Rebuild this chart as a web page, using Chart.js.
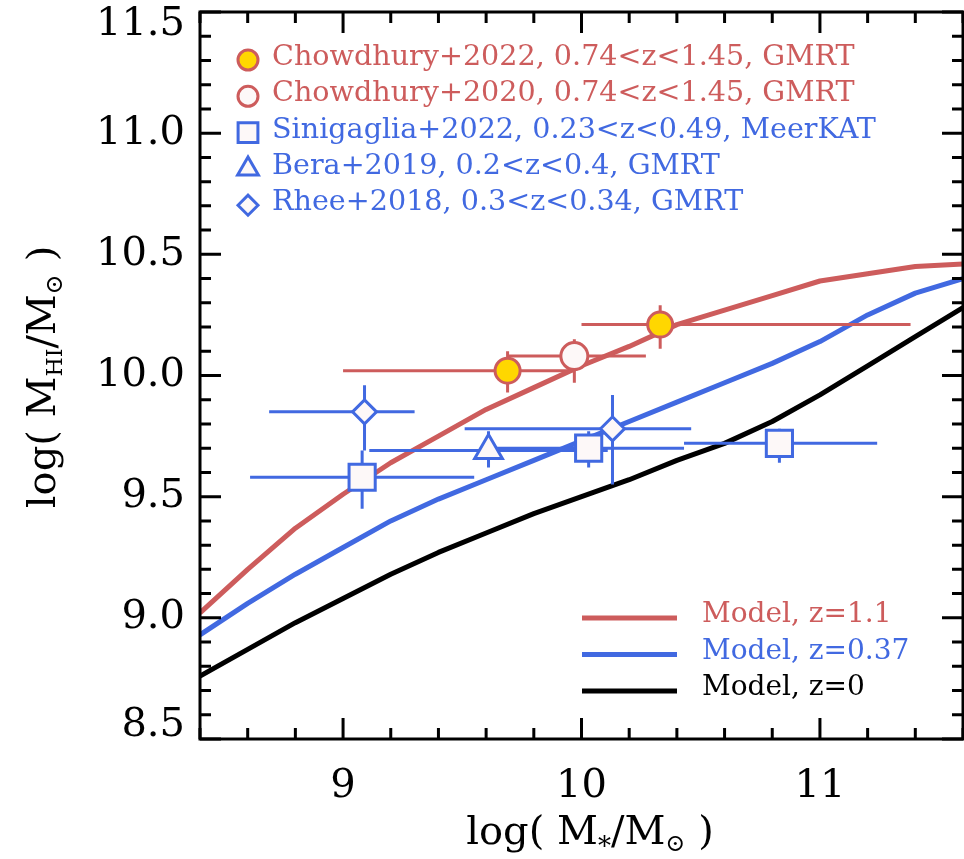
<!DOCTYPE html>
<html>
<head>
<meta charset="utf-8">
<title>HI mass vs stellar mass</title>
<script src="https://cdn.jsdelivr.net/npm/chart.js@4.4.1/dist/chart.umd.min.js"></script>
<style>
  html, body { margin: 0; padding: 0; background: #fff; }
  #wrap { width: 964px; height: 859px; }
</style>
</head>
<body>
<div id="wrap"><canvas id="hiChart" width="964" height="859"></canvas></div>
<script>
      // Axis ranges and labelled ticks
      const xRange = [8.4, 11.6];
      const yRange = [8.5, 11.5];
      const xMajor = [9, 10, 11];
      const yMajor = [8.5, 9.0, 9.5, 10.0, 10.5, 11.0, 11.5];
      const xMinorStep = 0.2;
      const yMinorStep = 0.1;

      // Model curves, log M_HI against log M_* (0.2 dex grid)
      const modelMstar = [8.4, 8.6, 8.8, 9.0, 9.2, 9.4, 9.6, 9.8, 10.0, 10.2, 10.4, 10.6, 10.8, 11.0, 11.2, 11.4, 11.6];
      const modelZ11 = [9.02, 9.20, 9.37, 9.51, 9.64, 9.75, 9.86, 9.95, 10.04, 10.12, 10.21, 10.27, 10.33, 10.39, 10.42, 10.45, 10.46];
      const modelZ037 = [8.93, 9.06, 9.18, 9.29, 9.40, 9.49, 9.57, 9.65, 9.73, 9.81, 9.89, 9.97, 10.05, 10.14, 10.25, 10.34, 10.40];
      const modelZ0 = [8.76, 8.87, 8.98, 9.08, 9.18, 9.27, 9.35, 9.43, 9.50, 9.57, 9.65, 9.72, 9.81, 9.92, 10.04, 10.16, 10.28];
      const modelLabels = ['Model, z=1.1', 'Model, z=0.37', 'Model, z=0'];

      // Stacked HI measurements: centre, then low/high ends of the bars
      const chow22Mstar = [9.69, 10.33];
      const chow22MstarLo = [9.00, 10.00];
      const chow22MstarHi = [9.97, 11.38];
      const chow22Mhi = [10.02, 10.21];
      const chow22MhiLo = [9.93, 10.11];
      const chow22MhiHi = [10.10, 10.29];

      const chow20Mstar = [9.97];
      const chow20MstarLo = [9.69];
      const chow20MstarHi = [10.27];
      const chow20Mhi = [10.08];
      const chow20MhiLo = [9.97];
      const chow20MhiHi = [10.15];

      const sini22Mstar = [9.08, 10.03, 10.83];
      const sini22MstarLo = [8.61, 9.63, 10.43];
      const sini22MstarHi = [9.55, 10.43, 11.24];
      const sini22Mhi = [9.58, 9.70, 9.72];
      const sini22MhiLo = [9.45, 9.62, 9.64];
      const sini22MhiHi = [9.69, 9.77, 9.78];

      const bera19Mstar = [9.61];
      const bera19MstarLo = [9.11];
      const bera19MstarHi = [10.11];
      const bera19Mhi = [9.69];
      const bera19MhiLo = [9.62];
      const bera19MhiHi = [9.77];

      const rhee18Mstar = [9.09, 10.13];
      const rhee18MstarLo = [8.69, 9.51];
      const rhee18MstarHi = [9.30, 10.46];
      const rhee18Mhi = [9.85, 9.78];
      const rhee18MhiLo = [9.69, 9.55];
      const rhee18MhiHi = [9.96, 9.92];

      const surveyLabels = [
        'Chowdhury+2022, 0.74<z<1.45, GMRT',
        'Chowdhury+2020, 0.74<z<1.45, GMRT',
        'Sinigaglia+2022, 0.23<z<0.49, MeerKAT',
        'Bera+2019, 0.2<z<0.4, GMRT',
        'Rhee+2018, 0.3<z<0.34, GMRT'
      ];

      const RED = '#cd5c5c';
      const BLUE = '#4169e1';
      const GOLD = '#ffd700';
      const OPEN = '#fdf8f8';
      const FONT = "'DejaVu Serif', 'DejaVu Sans', serif";

      Chart.defaults.font.family = FONT;
      Chart.defaults.color = '#000';

      function tickValues(min, max, step) {
        const out = [];
        const n = Math.round((max - min) / step);
        for (let i = 0; i <= n; i++) out.push(+(min + i * step).toFixed(3));
        return out;
      }
      const isMajor = (v, majors) => majors.some(m => Math.abs(m - v) < 1e-6);

      function points(xs, ys, xlo, xhi, ylo, yhi) {
        return xs.map((x, i) => ({ x, y: ys[i], xMin: xlo[i], xMax: xhi[i], yMin: ylo[i], yMax: yhi[i] }));
      }

      function survey(label, data, style, radius, legendRadius, fill, color) {
        return {
          label, data, errorBars: true, legendRadius,
          pointStyle: style, pointRadius: radius,
          pointBackgroundColor: fill, pointBorderColor: color, pointBorderWidth: 3,
          showLine: false
        };
      }

      // model tables are joined point to point
      function model(label, ys, color) {
        return {
          label, model: true,
          data: modelMstar.map((x, i) => ({ x, y: ys[i] })),
          showLine: true, borderColor: color, borderWidth: 5,
          borderJoinStyle: 'round', pointRadius: 0, tension: 0, fill: false
        };
      }

      const datasets = [
        survey(surveyLabels[0], points(chow22Mstar, chow22Mhi, chow22MstarLo, chow22MstarHi, chow22MhiLo, chow22MhiHi), 'circle', 12.5, 10, GOLD, RED),
        survey(surveyLabels[1], points(chow20Mstar, chow20Mhi, chow20MstarLo, chow20MstarHi, chow20MhiLo, chow20MhiHi), 'circle', 13.5, 10, OPEN, RED),
        survey(surveyLabels[2], points(sini22Mstar, sini22Mhi, sini22MstarLo, sini22MstarHi, sini22MhiLo, sini22MhiHi), 'rect', 18.5, 14, OPEN, BLUE),
        survey(surveyLabels[3], points(bera19Mstar, bera19Mhi, bera19MstarLo, bera19MstarHi, bera19MhiLo, bera19MhiHi), 'triangle', 16, 12, OPEN, BLUE),
        survey(surveyLabels[4], points(rhee18Mstar, rhee18Mhi, rhee18MstarLo, rhee18MstarHi, rhee18MhiLo, rhee18MhiHi), 'rectRot', 12, 10, OPEN, BLUE),
        model(modelLabels[0], modelZ11, RED),
        model(modelLabels[1], modelZ037, BLUE),
        model(modelLabels[2], modelZ0, '#000')
      ];

      // Datasets are painted last-to-first, so the last survey is the first
      // marker set drawn after the model curves: error bars go in just before it
      const firstMarkerSet = datasets.filter(d => d.errorBars).length - 1;

      const errorBars = {
        id: 'errorBars',
        beforeDatasetDraw(chart, args) {
          if (args.index !== firstMarkerSet) return;
          const { ctx, scales: { x, y } } = chart;
          ctx.save();
          ctx.lineWidth = 3;
          chart.data.datasets.forEach(ds => {
            if (!ds.errorBars) return;
            ctx.strokeStyle = ds.pointBorderColor;
            ds.data.forEach(p => {
              const px = x.getPixelForValue(p.x);
              const py = y.getPixelForValue(p.y);
              ctx.beginPath();
              ctx.moveTo(x.getPixelForValue(p.xMin), py);
              ctx.lineTo(x.getPixelForValue(p.xMax), py);
              ctx.moveTo(px, y.getPixelForValue(p.yMin));
              ctx.lineTo(px, y.getPixelForValue(p.yMax));
              ctx.stroke();
            });
          });
          ctx.restore();
        }
      };

      // Box round the plot with inward ticks on all four sides
      const frame = {
        id: 'frame',
        afterDatasetsDraw(chart) {
          const { ctx, chartArea: a, scales: { x, y } } = chart;
          ctx.save();
          ctx.strokeStyle = '#000';
          ctx.lineWidth = 3;
          ctx.beginPath();
          x.ticks.forEach(t => {
            const px = x.getPixelForValue(t.value);
            const len = isMajor(t.value, xMajor) ? 21 : 11;
            ctx.moveTo(px, a.bottom); ctx.lineTo(px, a.bottom - len);
            ctx.moveTo(px, a.top); ctx.lineTo(px, a.top + len);
          });
          y.ticks.forEach(t => {
            const py = y.getPixelForValue(t.value);
            const len = isMajor(t.value, yMajor) ? 21 : 11;
            ctx.moveTo(a.left, py); ctx.lineTo(a.left + len, py);
            ctx.moveTo(a.right, py); ctx.lineTo(a.right - len, py);
          });
          ctx.stroke();
          ctx.strokeRect(a.left, a.top, a.right - a.left, a.bottom - a.top);
          ctx.restore();
        }
      };

      function drawMarker(ctx, style, r, x, y) {
        const h = Chart.helpers;
        if (h && h.drawPoint) {
          h.drawPoint(ctx, { pointStyle: style, radius: r, borderWidth: 3, rotation: 0 }, x, y);
          return;
        }
        ctx.beginPath();
        ctx.arc(x, y, r, 0, Math.PI * 2);
        ctx.fill();
        ctx.stroke();
      }

      // Two keys: survey symbols top left, model curves bottom right
      const keys = {
        id: 'keys',
        afterDraw(chart) {
          const ctx = chart.ctx;
          ctx.save();
          ctx.textAlign = 'left';
          ctx.textBaseline = 'alphabetic';
          ctx.lineWidth = 3;
          ctx.font = '28.6px ' + FONT;
          let row = 0;
          chart.data.datasets.forEach(ds => {
            if (!ds.errorBars) return;
            const y = 60 + row * 36.3;
            ctx.fillStyle = ds.pointBackgroundColor;
            ctx.strokeStyle = ds.pointBorderColor;
            drawMarker(ctx, ds.pointStyle, ds.legendRadius, 248, y);
            ctx.fillStyle = ds.pointBorderColor;
            ctx.fillText(ds.label, 272, y + 5);
            row++;
          });
          ctx.font = '28px ' + FONT;
          row = 0;
          chart.data.datasets.forEach(ds => {
            if (!ds.model) return;
            const y = 618 + row * 36.5;
            ctx.strokeStyle = ds.borderColor;
            ctx.lineWidth = 5;
            ctx.beginPath();
            ctx.moveTo(582, y);
            ctx.lineTo(677, y);
            ctx.stroke();
            ctx.fillStyle = ds.borderColor;
            ctx.fillText(ds.label, 702, y + 4);
            row++;
          });
          ctx.restore();
        }
      };

      // Axis titles with subscripts, drawn as runs of text
      function drawRuns(ctx, runs, x, y) {
        let w = 0;
        runs.forEach(r => { ctx.font = r.size + 'px ' + FONT; w += ctx.measureText(r.text).width; });
        let cx = x - w / 2;
        runs.forEach(r => {
          ctx.font = r.size + 'px ' + FONT;
          ctx.fillText(r.text, cx, y + (r.shift || 0));
          cx += ctx.measureText(r.text).width;
        });
      }

      const axisTitles = {
        id: 'axisTitles',
        afterDraw(chart) {
          const ctx = chart.ctx;
          ctx.save();
          ctx.fillStyle = '#000';
          ctx.textAlign = 'left';
          ctx.textBaseline = 'alphabetic';
          drawRuns(ctx, [
            { text: 'log( M', size: 40 },
            { text: '*', size: 26, shift: 11 },
            { text: '/M', size: 40 },
            { text: '\u2299', size: 24, shift: 7 },
            { text: ' )', size: 40 }
          ], 590, 844);
          ctx.translate(55, 377);
          ctx.rotate(-Math.PI / 2);
          drawRuns(ctx, [
            { text: 'log( M', size: 40 },
            { text: 'HI', size: 22, shift: 7 },
            { text: '/M', size: 40 },
            { text: '\u2299', size: 24, shift: 7 },
            { text: ' )', size: 40 }
          ], 0, 0);
          ctx.restore();
        }
      };

      const ctx = document.getElementById('hiChart').getContext('2d');
      const hiChart = new Chart(ctx, {
        type: 'scatter',
        data: { datasets },
        options: {
          responsive: false,
          animation: false,
          events: [],
          layout: { autoPadding: false, padding: { top: 12, right: 1, left: 0, bottom: 0 } },
          plugins: { legend: { display: false }, tooltip: { enabled: false } },
          scales: {
            x: {
              type: 'linear', min: xRange[0], max: xRange[1],
              afterBuildTicks: s => { s.ticks = tickValues(xRange[0], xRange[1], xMinorStep).map(v => ({ value: v })); },
              afterFit: s => { s.height = 120; s.paddingLeft = 0; s.paddingRight = 0; },
              grid: { display: false, drawTicks: false },
              border: { display: false },
              ticks: {
                autoSkip: false, maxRotation: 0, minRotation: 0, padding: 24,
                font: { size: 40 },
                callback: v => isMajor(v, xMajor) ? String(Math.round(v)) : ''
              }
            },
            y: {
              type: 'linear', min: yRange[0], max: yRange[1],
              afterBuildTicks: s => { s.ticks = tickValues(yRange[0], yRange[1], yMinorStep).map(v => ({ value: v })); },
              afterFit: s => { s.width = 200; s.paddingTop = 0; s.paddingBottom = 0; },
              grid: { display: false, drawTicks: false },
              border: { display: false },
              ticks: {
                autoSkip: false, padding: 15,
                font: { size: 40, lineHeight: '26px' },
                callback: v => {
                  if (!isMajor(v, yMajor)) return '';
                  const s = v.toFixed(1);
                  // end labels are pulled inside the frame
                  if (Math.abs(v - yRange[1]) < 1e-6) return ['', s];
                  if (Math.abs(v - yRange[0]) < 1e-6) return [s, ''];
                  return s;
                }
              }
            }
          }
        },
        plugins: [errorBars, frame, keys, axisTitles]
      });
</script>
</body>
</html>
